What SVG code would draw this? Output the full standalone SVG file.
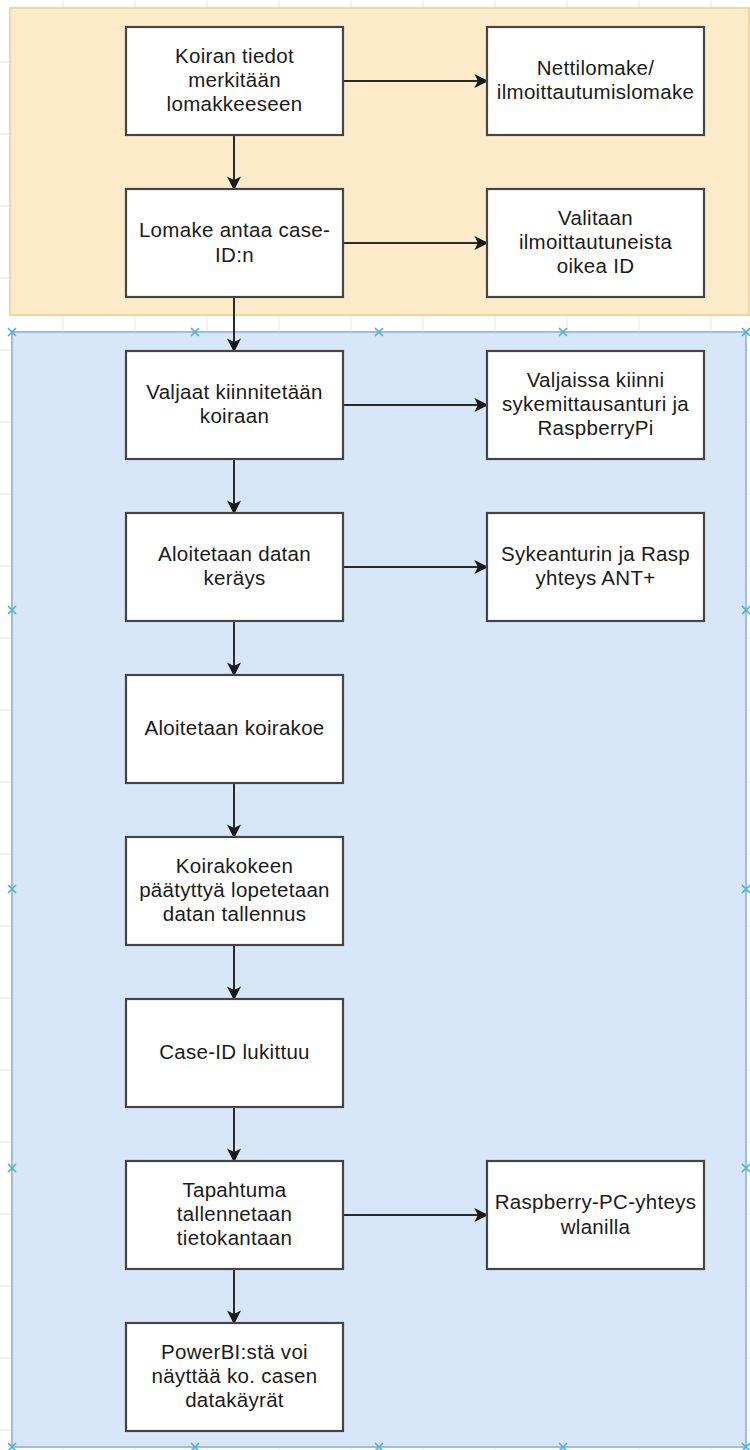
<svg xmlns="http://www.w3.org/2000/svg" width="750" height="1450" viewBox="0 0 750 1450">
<style>
.grid{stroke:#e6e6e6;stroke-width:1}
.node rect{fill:#ffffff;stroke:#454545;stroke-width:2.2}
.node text{font-family:"Liberation Sans",Arial,sans-serif;font-size:20.5px;letter-spacing:0.3px;fill:#1a1a1a;text-anchor:middle}
.edge{stroke:#2a2a2a;stroke-width:2;fill:none;marker-end:url(#arr)}
.x{stroke:#45b3dc;stroke-width:1.6;fill:none}
</style>
<defs>
<marker id="arr" viewBox="0 0 10 10" refX="9" refY="5" markerWidth="7" markerHeight="7" orient="auto" markerUnits="strokeWidth">
<path d="M0,0 L10,5 L0,10 L2.5,5 Z" fill="#1a1a1a"/>
</marker>
<g id="cross"><path class="x" d="M-4,-4 L4,4 M-4,4 L4,-4"/></g>
</defs>
<rect x="0" y="0" width="750" height="1450" fill="#ffffff"/>
<g id="grid">
<path class="grid" d="M63,0V1450 M135,0V1450 M207,0V1450 M279,0V1450 M351,0V1450 M423,0V1450 M495,0V1450 M567,0V1450 M639,0V1450 M711,0V1450"/>
<path class="grid" d="M0,62H750 M0,134H750 M0,206H750 M0,278H750 M0,350H750 M0,422H750 M0,494H750 M0,566H750 M0,638H750 M0,710H750 M0,782H750 M0,854H750 M0,926H750 M0,998H750 M0,1070H750 M0,1142H750 M0,1214H750 M0,1286H750 M0,1358H750 M0,1430H750"/>
</g>
<g id="containers">
<rect x="10" y="8" width="739" height="307" fill="#fcebc8" stroke="#efd6a4" stroke-width="2"/>
<rect x="12" y="332" width="734" height="1115" fill="#d8e6fa" stroke="#a2bbdf" stroke-width="2"/>
</g>
<g id="markers">
<use href="#cross" x="12" y="332"/><use href="#cross" x="195" y="332"/><use href="#cross" x="379" y="332"/><use href="#cross" x="563" y="332"/><use href="#cross" x="746" y="332"/>
<use href="#cross" x="12" y="610"/><use href="#cross" x="746" y="610"/>
<use href="#cross" x="12" y="889"/><use href="#cross" x="746" y="889"/>
<use href="#cross" x="12" y="1168"/><use href="#cross" x="746" y="1168"/>
<use href="#cross" x="12" y="1447"/><use href="#cross" x="195" y="1447"/><use href="#cross" x="379" y="1447"/><use href="#cross" x="563" y="1447"/><use href="#cross" x="746" y="1447"/>
</g>
<g id="connectors">
<path class="edge" d="M234,135V189"/>
<path class="edge" d="M234,297V351"/>
<path class="edge" d="M234,459V513"/>
<path class="edge" d="M234,621V675"/>
<path class="edge" d="M234,783V837"/>
<path class="edge" d="M234,945V999"/>
<path class="edge" d="M234,1107V1161"/>
<path class="edge" d="M234,1269V1323"/>
<path class="edge" d="M343,81H487"/>
<path class="edge" d="M343,243H487"/>
<path class="edge" d="M343,405H487"/>
<path class="edge" d="M343,567H487"/>
<path class="edge" d="M343,1215H487"/>
</g>
<g id="n1" class="node"><rect x="126" y="27" width="217" height="108"/><text x="234.5" y="63">Koiran tiedot</text><text x="234.5" y="87">merkitään</text><text x="234.5" y="111">lomakkeeseen</text></g>
<g id="r1" class="node"><rect x="487" y="27" width="217" height="108"/><text x="595.5" y="75">Nettilomake/</text><text x="595.5" y="99">ilmoittautumislomake</text></g>
<g id="n2" class="node"><rect x="126" y="189" width="217" height="108"/><text x="234.5" y="237">Lomake antaa case-</text><text x="234.5" y="262">ID:n</text></g>
<g id="r2" class="node"><rect x="487" y="189" width="217" height="108"/><text x="595.5" y="225">Valitaan</text><text x="595.5" y="249">ilmoittautuneista</text><text x="595.5" y="273">oikea ID</text></g>
<g id="n3" class="node"><rect x="126" y="351" width="217" height="108"/><text x="234.5" y="399">Valjaat kiinnitetään</text><text x="234.5" y="423">koiraan</text></g>
<g id="r3" class="node"><rect x="487" y="351" width="217" height="108"/><text x="595.5" y="387">Valjaissa kiinni</text><text x="595.5" y="411">sykemittausanturi ja</text><text x="595.5" y="435">RaspberryPi</text></g>
<g id="n4" class="node"><rect x="126" y="513" width="217" height="108"/><text x="234.5" y="561">Aloitetaan datan</text><text x="234.5" y="585">keräys</text></g>
<g id="r4" class="node"><rect x="487" y="513" width="217" height="108"/><text x="595.5" y="561">Sykeanturin ja Rasp</text><text x="595.5" y="585">yhteys ANT+</text></g>
<g id="n5" class="node"><rect x="126" y="675" width="217" height="108"/><text x="234.5" y="735">Aloitetaan koirakoe</text></g>
<g id="n6" class="node"><rect x="126" y="837" width="217" height="108"/><text x="234.5" y="873">Koirakokeen</text><text x="234.5" y="897">päätyttyä lopetetaan</text><text x="234.5" y="921">datan tallennus</text></g>
<g id="n7" class="node"><rect x="126" y="999" width="217" height="108"/><text x="234.5" y="1059">Case-ID lukittuu</text></g>
<g id="n8" class="node"><rect x="126" y="1161" width="217" height="108"/><text x="234.5" y="1197">Tapahtuma</text><text x="234.5" y="1221">tallennetaan</text><text x="234.5" y="1245">tietokantaan</text></g>
<g id="r8" class="node"><rect x="487" y="1161" width="217" height="108"/><text x="595.5" y="1209">Raspberry-PC-yhteys</text><text x="595.5" y="1234">wlanilla</text></g>
<g id="n9" class="node"><rect x="126" y="1323" width="217" height="108"/><text x="234.5" y="1359">PowerBI:stä voi</text><text x="234.5" y="1383">näyttää ko. casen</text><text x="234.5" y="1407">datakäyrät</text></g>
</svg>
